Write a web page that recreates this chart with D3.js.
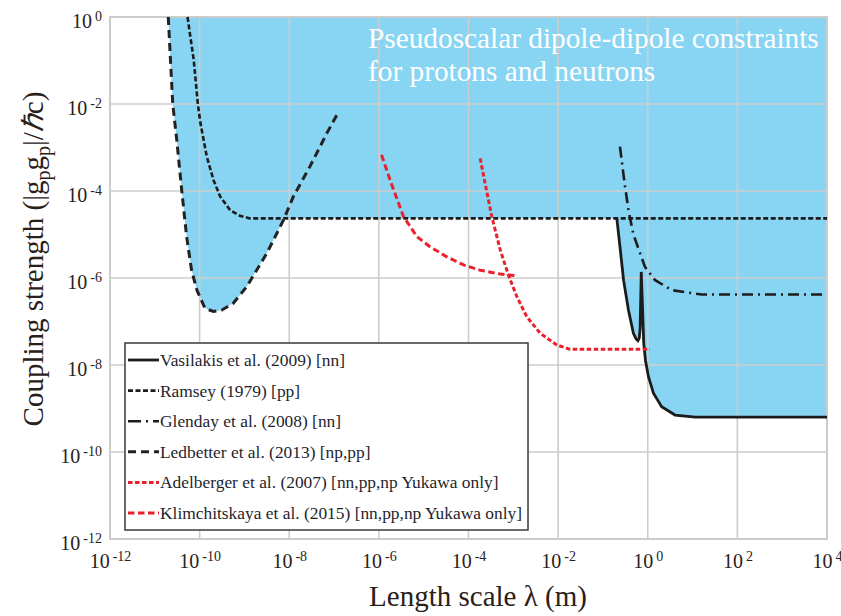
<!DOCTYPE html>
<html>
<head>
<meta charset="utf-8">
<script src="https://cdn.jsdelivr.net/npm/d3@7"></script>
<style>
  body { margin: 0; background: #fff; }
  svg { display: block; }
</style>
</head>
<body>
<div id="chart"></div>
<script>
// curves as [log10(lambda in m), log10(|gp gp|/hbar c)]
const vasilakis = [[-0.69,-4.63],[-0.62,-5.28],[-0.54,-6.05],[-0.43,-6.74],[-0.32,-7.27],[-0.26,-7.40],[-0.22,-7.44],[-0.19,-7.38],[-0.17,-7.15],[-0.145,-5.86],[-0.12,-6.6],[-0.09,-7.5],[-0.05,-7.9],[0.016,-8.27],[0.127,-8.65],[0.31,-8.96],[0.61,-9.15],[1.06,-9.20],[4,-9.20]];
const ramsey = [[-10.27,0],[-10.13,-1.0],[-10.04,-2.0],[-9.98,-2.45],[-9.84,-3.21],[-9.69,-3.75],[-9.54,-4.13],[-9.32,-4.44],[-9.10,-4.57],[-8.88,-4.63],[4,-4.63]];
const glenday = [[-0.62,-2.98],[-0.52,-3.8],[-0.43,-4.44],[-0.32,-5.0],[-0.21,-5.32],[-0.06,-5.75],[0.165,-6.05],[0.54,-6.28],[1.2,-6.38],[4,-6.38]];
const ledbetter = [[-10.70,0],[-10.60,-2.0],[-10.51,-2.83],[-10.40,-3.98],[-10.29,-5.05],[-10.18,-5.82],[-10.06,-6.28],[-9.99,-6.44],[-9.88,-6.70],[-9.69,-6.77],[-9.51,-6.74],[-9.25,-6.58],[-8.95,-6.20],[-8.50,-5.43],[-8.13,-4.67],[-7.91,-4.13],[-7.54,-3.44],[-7.16,-2.67],[-6.90,-2.18]];
const adelberger = [[-3.74,-3.25],[-3.63,-3.82],[-3.48,-4.59],[-3.29,-5.36],[-3.11,-5.93],[-2.92,-6.43],[-2.70,-6.89],[-2.40,-7.27],[-2.03,-7.54],[-1.73,-7.64],[0.05,-7.64]];
const klimchitskaya = [[-5.94,-3.17],[-5.75,-3.75],[-5.45,-4.59],[-5.15,-5.05],[-4.86,-5.28],[-4.49,-5.51],[-4.11,-5.70],[-3.74,-5.82],[-3.29,-5.91],[-2.92,-5.95]];

const xExponents = [-12,-10,-8,-6,-4,-2,0,2,4];
const yExponents = [0,-2,-4,-6,-8,-10,-12];
const titleLines = ["Pseudoscalar dipole-dipole constraints", "for protons and neutrons"];
const legendNames = [
  "Vasilakis et al. (2009) [nn]",
  "Ramsey (1979) [pp]",
  "Glenday et al. (2008) [nn]",
  "Ledbetter et al. (2013) [np,pp]",
  "Adelberger et al. (2007) [nn,pp,np Yukawa only]",
  "Klimchitskaya et al. (2015) [nn,pp,np Yukawa only]"
];
const legendData = [vasilakis, ramsey, glenday, ledbetter, adelberger, klimchitskaya];
// curves that bound the excluded (shaded) region
const bounding = [ledbetter, ramsey, vasilakis];

const styles = [
  { color: "#1c1c1c", width: 2.8, dash: null },
  { color: "#1c1c1c", width: 2.6, dash: "5,2.5" },
  { color: "#1c1c1c", width: 2.6, dash: "11,5,2,5" },
  { color: "#222", width: 3, dash: "8,5" },
  { color: "#e8212c", width: 3, dash: "4.5,2.5" },
  { color: "#e8212c", width: 3, dash: "6.5,3.5" }
];

const W = 841, H = 616;
const margin = { top: 17, right: 14, bottom: 77, left: 110 };
const serif = "'Liberation Serif', 'Times New Roman', serif";

const svg = d3.select("#chart").append("svg")
  .attr("width", W)
  .attr("height", H);

const x = d3.scaleLog().domain([1e-12, 1e4]).range([margin.left, W - margin.right]);
const y = d3.scaleLog().domain([1e-12, 1]).range([H - margin.bottom, margin.top]);

const toPt = d => [10 ** d[0], 10 ** d[1]];

// lower envelope of the bounding curves, linear in log-log
function interp(arr, lx) {
  if (lx < arr[0][0] || lx > arr[arr.length - 1][0]) return null;
  for (let i = 1; i < arr.length; i++) {
    if (lx <= arr[i][0]) {
      const a = arr[i - 1], b = arr[i];
      const t = b[0] === a[0] ? 0 : (lx - a[0]) / (b[0] - a[0]);
      return a[1] + t * (b[1] - a[1]);
    }
  }
  return null;
}
let xs = d3.range(-12, 4.0001, 0.002);
bounding.forEach(c => c.forEach(p => xs.push(p[0])));
xs = Array.from(new Set(xs)).sort((a, b) => a - b);
const envelope = xs.map(lx => {
  let v = 0;
  bounding.forEach(c => {
    const g = interp(c, lx);
    if (g !== null && g < v) v = g;
  });
  return [lx, v];
});

svg.append("path")
  .datum(envelope.map(toPt))
  .attr("fill", "#88d5f3")
  .attr("d", d3.area()
    .x(d => x(d[0]))
    .y0(y(1))
    .y1(d => y(d[1])));

// grid
const grid = svg.append("g").attr("stroke", "#cccccc").attr("stroke-width", 1.6);
grid.selectAll(".gx").data(xExponents).enter().append("line")
  .attr("x1", d => x(10 ** d)).attr("x2", d => x(10 ** d))
  .attr("y1", y(1)).attr("y2", y(1e-12));
grid.selectAll(".gy").data(yExponents).enter().append("line")
  .attr("y1", d => y(10 ** d)).attr("y2", d => y(10 ** d))
  .attr("x1", x(1e-12)).attr("x2", x(1e4));
svg.append("rect")
  .attr("x", x(1e-12)).attr("y", y(1))
  .attr("width", x(1e4) - x(1e-12)).attr("height", y(1e-12) - y(1))
  .attr("fill", "none").attr("stroke", "#cccccc").attr("stroke-width", 2);

// curves
const line = d3.line().x(d => x(d[0])).y(d => y(d[1]));
legendData.forEach((c, i) => {
  svg.append("path")
    .datum(c.map(toPt))
    .attr("fill", "none")
    .attr("stroke", styles[i].color)
    .attr("stroke-width", styles[i].width)
    .attr("stroke-dasharray", styles[i].dash)
    .attr("d", line);
});

// title
svg.append("g").selectAll("text").data(titleLines).enter().append("text")
  .attr("x", 368)
  .attr("y", (d, i) => 48 + i * 33)
  .attr("fill", "#fff")
  .style("font-family", serif)
  .style("font-size", "29.3px")
  .text(d => d);

// axes
function powerLabels(sel) {
  sel.selectAll(".tick text").each(function(d) {
    const t = d3.select(this);
    const e = Math.round(Math.log10(d));
    t.text(null);
    t.append("tspan").text("10");
    t.append("tspan").attr("dx", 3).attr("dy", -7).style("font-size", "14px").text(e);
  });
}

const xAxis = svg.append("g")
  .attr("transform", `translate(0,${y(1e-12)})`)
  .call(d3.axisBottom(x).tickValues(xExponents.map(e => 10 ** e)).tickSize(0).tickPadding(15))
  .call(powerLabels);
const yAxis = svg.append("g")
  .attr("transform", `translate(${x(1e-12)},0)`)
  .call(d3.axisLeft(y).tickValues(yExponents.map(e => 10 ** e)).tickSize(0).tickPadding(8))
  .call(powerLabels);
[xAxis, yAxis].forEach(a => {
  a.select(".domain").remove();
  a.selectAll(".tick text")
    .attr("fill", "#2a2019")
    .style("font-family", serif)
    .style("font-size", "20px");
});
yAxis.selectAll(".tick text").attr("dy", "0.5em");

svg.append("text")
  .attr("x", 478)
  .attr("y", 606)
  .attr("text-anchor", "middle")
  .attr("fill", "#2a2019")
  .style("font-family", serif)
  .style("font-size", "29px")
  .text("Length scale λ (m)");

const yt = svg.append("text")
  .attr("transform", "translate(43,259) rotate(-90)")
  .attr("text-anchor", "middle")
  .attr("fill", "#2a2019")
  .style("font-family", serif)
  .style("font-size", "29px");
yt.append("tspan").text("Coupling strength (|g");
yt.append("tspan").attr("dy", 7).style("font-size", "20px").text("p");
yt.append("tspan").attr("dy", -7).text("g");
yt.append("tspan").attr("dy", 7).style("font-size", "20px").text("p");
yt.append("tspan").attr("dy", -7).text("|/");
yt.append("tspan").style("font-style", "italic").text("ℏ");
yt.append("tspan").text("c)");

// legend
const legend = svg.append("g");
legend.append("rect")
  .attr("x", 125).attr("y", 343)
  .attr("width", 403).attr("height", 187)
  .attr("fill", "#fff")
  .attr("stroke", "#3a3a3a")
  .attr("stroke-width", 1.5);

const items = legend.selectAll(".item").data(legendNames).enter().append("g")
  .attr("transform", (d, i) => `translate(128,${360 + i * 30.6})`);
items.append("line")
  .attr("x1", 0).attr("x2", 31)
  .attr("stroke", (d, i) => styles[i].color)
  .attr("stroke-width", (d, i) => styles[i].width)
  .attr("stroke-dasharray", (d, i) => i === 2 ? "13,5,2,5" : styles[i].dash);
items.append("text")
  .attr("x", 32)
  .attr("y", 6)
  .attr("fill", "#1f1f2e")
  .style("font-family", serif)
  .style("font-size", "17.4px")
  .text(d => d);
</script>
</body>
</html>
